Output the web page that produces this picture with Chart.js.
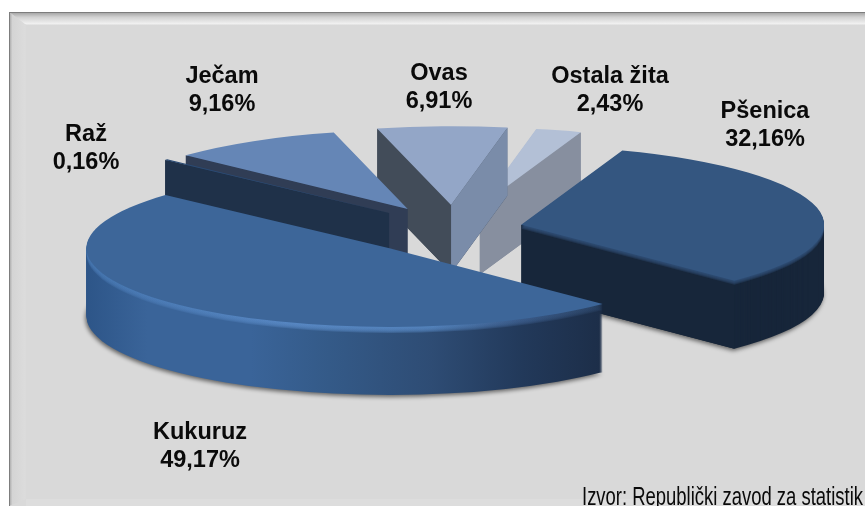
<!DOCTYPE html>
<html>
<head>
<meta charset="utf-8">
<title>Struktura proizvodnje žita</title>
<script src="https://cdn.jsdelivr.net/npm/chart.js@4/dist/chart.umd.min.js"></script>
<style>
	html, body { margin: 0; padding: 0; background: #fff; overflow: hidden; }
	canvas { display: block; }
</style>
</head>
<body>
<canvas id="pie" width="865" height="506"></canvas>
<script>
const categories = ['Pšenica', 'Kukuruz', 'Raž', 'Ječam', 'Ovas', 'Ostala žita']
const shares = [32.16, 49.17, 0.16, 9.16, 6.91, 2.43]
const source = 'Izvor: Republički zavod za statistik'

// look of the slices, same order as categories
const topColors = ['#345680', '#3d6699', '#2a4a73', '#6586b6', '#93a6c7', '#b3c0d6']
const startFaces = ['#17263a', '#17263a', '#1f3149', '#303d55', '#424c59', '#878f9f']
const endFaces = ['#17263a', '#17263a', '#1f3149', '#303d55', '#7a8ca9', '#878f9f']
const explode = [75, 86, 80, 85, 100, 110]
const nudge = [[0, -2], [1, 1], [0, -4], [3, -3], [6, 0], [3, 3]]
const paintOrder = [5, 4, 3, 2, 0, 1]
const labelSpots = [[765, 118], [200, 439], [86, 141], [222, 83], [439, 80], [610, 83]]

const view = {cx: 448, cy: 231, radius: 303, squash: 0.26, depth: 68}

const kukuruzRim = [[0, '#2d5588'], [0.1, '#3a6499'], [0.27, '#3a6499'], [0.4, '#345a88'], [0.57, '#2e4c74'], [0.72, '#22395a'], [0.86, '#1c2d47']]
const kukuruzEdge = [[0, '#4676b0'], [0.35, '#5a8ac6'], [0.57, '#5585bf'], [0.72, '#3b5c8b'], [0.86, '#2a4263']]

function tip(arc, i) {
	const mid = (arc.startAngle + arc.endAngle) / 2
	return {
		x: view.cx + Math.cos(mid) * explode[i] + nudge[i][0],
		y: view.cy + Math.sin(mid) * explode[i] * view.squash + nudge[i][1]
	}
}

function drawSlice(ctx, arc, i, dy, fill) {
	const saved = arc.options
	const t = tip(arc, i)
	const k = view.radius / arc.outerRadius
	ctx.save()
	ctx.translate(t.x, t.y + dy)
	ctx.scale(k, k * view.squash)
	ctx.translate(-arc.x, -arc.y)
	let color = fill
	if (Array.isArray(fill)) {
		color = ctx.createLinearGradient(arc.x - arc.outerRadius, 0, arc.x + arc.outerRadius, 0)
		fill.forEach(s => color.addColorStop(s[0], s[1]))
	}
	if (fill) arc.options = Object.assign({}, saved, {backgroundColor: color, borderWidth: 0})
	arc.draw(ctx)
	arc.options = saved
	ctx.restore()
}

// cut side of a slice, from the tip to the rim at the given angle
function drawFace(ctx, arc, i, angle, color) {
	const t = tip(arc, i)
	const rx = t.x + Math.cos(angle) * view.radius
	const ry = t.y + Math.sin(angle) * view.radius * view.squash
	ctx.fillStyle = color
	ctx.beginPath()
	ctx.moveTo(t.x, t.y)
	ctx.lineTo(rx, ry)
	ctx.lineTo(rx, ry + view.depth)
	ctx.lineTo(t.x, t.y + view.depth)
	ctx.closePath()
	ctx.fill()
}

const panel = {
	id: 'panel',
	beforeDraw(chart) {
		const ctx = chart.ctx
		const w = chart.width, h = chart.height
		ctx.save()
		ctx.fillStyle = '#fff'
		ctx.fillRect(0, 0, w, h)
		ctx.fillStyle = '#d9d9d9'
		ctx.fillRect(9, 12, w - 9, h - 12)

		let g = ctx.createLinearGradient(0, 13, 0, 25)
		g.addColorStop(0, '#a8a8a8')
		g.addColorStop(0.35, '#d2d2d2')
		g.addColorStop(0.9, '#f1f1f1')
		g.addColorStop(1, '#dcdcdc')
		ctx.fillStyle = g
		ctx.beginPath()
		ctx.moveTo(9, 12)
		ctx.lineTo(w, 12)
		ctx.lineTo(w, 25)
		ctx.lineTo(26, 25)
		ctx.closePath()
		ctx.fill()

		g = ctx.createLinearGradient(9, 0, 26, 0)
		g.addColorStop(0, '#a0a0a0')
		g.addColorStop(0.2, '#d4d4d4')
		g.addColorStop(0.95, '#dcdcdc')
		g.addColorStop(1, '#d9d9d9')
		ctx.fillStyle = g
		ctx.beginPath()
		ctx.moveTo(9, 12)
		ctx.lineTo(26, 25)
		ctx.lineTo(26, 499)
		ctx.lineTo(9, h)
		ctx.closePath()
		ctx.fill()

		ctx.fillStyle = '#dddddd'
		ctx.fillRect(26, 499, w - 26, h - 499)
		ctx.fillStyle = '#7d7d7d'
		ctx.fillRect(9, 12, w - 9, 1)
		ctx.fillRect(9, 12, 1, h - 12)
		ctx.restore()
	}
}

const pie3d = {
	id: 'pie3d',
	beforeDatasetsDraw(chart) {
		const ctx = chart.ctx
		const arcs = chart.getDatasetMeta(0).data
		paintOrder.forEach(i => {
			const arc = arcs[i]
			const rim = i === 1 ? kukuruzRim : startFaces[i]

			ctx.save()
			if (i < 2) {
				ctx.shadowColor = 'rgba(0,0,0,.55)'
				ctx.shadowBlur = 4
				ctx.shadowOffsetX = -1
				ctx.shadowOffsetY = 2
			}
			drawSlice(ctx, arc, i, view.depth, rim)
			ctx.restore()

			for (let d = view.depth - 1; d > 0; d--) {
				drawSlice(ctx, arc, i, d, rim)
			}
			// only the sides turned towards the viewer
			if (Math.sin(arc.startAngle - Math.PI / 2) > 0) drawFace(ctx, arc, i, arc.startAngle, startFaces[i])
			if (Math.sin(arc.endAngle + Math.PI / 2) > 0) drawFace(ctx, arc, i, arc.endAngle, endFaces[i])

			// soft light edge along the rim
			ctx.save()
			if (i === 1) {
				ctx.globalAlpha = 0.35
				for (let d = 6; d > 0; d--) drawSlice(ctx, arc, i, d, kukuruzEdge)
			} else if (i === 0) {
				ctx.globalAlpha = 0.3
				for (let d = 4; d > 0; d--) drawSlice(ctx, arc, i, d, '#345680')
			}
			ctx.restore()
			drawSlice(ctx, arc, i, 0)
		})
		return false
	},
	afterDraw(chart) {
		const ctx = chart.ctx
		ctx.save()
		ctx.fillStyle = '#0a0a0a'
		ctx.textAlign = 'center'
		ctx.font = 'bold 23.5px "Liberation Sans"'
		categories.forEach((name, i) => {
			const value = shares[i].toFixed(2).replace('.', ',') + '%'
			ctx.fillText(name, labelSpots[i][0], labelSpots[i][1])
			ctx.fillText(value, labelSpots[i][0], labelSpots[i][1] + 28)
		})
		ctx.textAlign = 'left'
		ctx.font = '25px "Liberation Sans"'
		ctx.translate(582, 505)
		ctx.scale(281 / ctx.measureText(source).width, 1)
		ctx.fillText(source, 0, 0)
		ctx.restore()
	}
}

new Chart(document.getElementById('pie').getContext('2d'), {
	type: 'pie',
	data: {
		labels: categories,
		datasets: [{data: shares, backgroundColor: topColors, borderWidth: 0}]
	},
	options: {
		responsive: false,
		animation: false,
		rotation: 19.5,
		plugins: {legend: {display: false}, tooltip: {enabled: false}}
	},
	plugins: [panel, pie3d]
})
</script>
</body>
</html>
